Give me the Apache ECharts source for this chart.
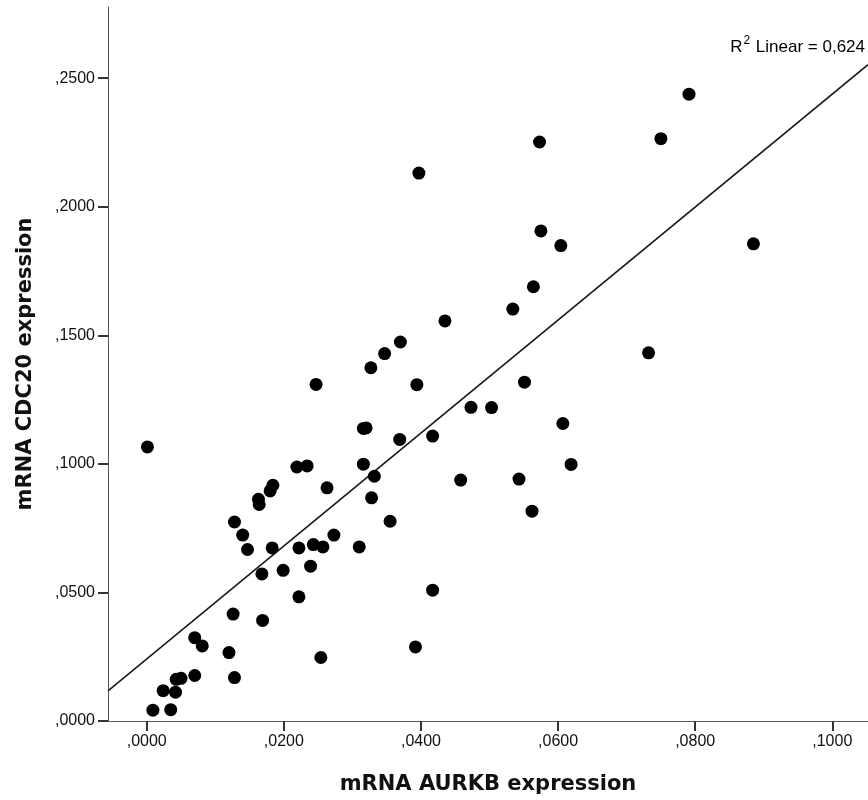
<!DOCTYPE html>
<html>
<head>
<meta charset="utf-8">
<script src="https://cdn.jsdelivr.net/npm/echarts@6/dist/echarts.min.js"></script>
<style>
  html, body { margin: 0; padding: 0; background: #fff; }
  #chart { width: 868px; height: 800px; }
</style>
</head>
<body>
<div id="chart"></div>
<script>
// ---- data ----
const xTicks = [0, 0.02, 0.04, 0.06, 0.08, 0.10];
const yTicks = [0, 0.05, 0.10, 0.15, 0.20, 0.25];
const xRange = [-0.00565, 0.10521];
const yRange = [0, 0.2777];

const aurkb = [
  0.0001, 0.0316, 0.0320, 0.0369, 0.0417, 0.0219, 0.0234, 0.0316, 0.0332, 0.0263,
  0.0328, 0.0184, 0.0180, 0.0163, 0.0164, 0.0355, 0.0128, 0.0140, 0.0273, 0.0147,
  0.0183, 0.0222, 0.0243, 0.0257, 0.0310, 0.0168, 0.0199, 0.0239, 0.0222, 0.0417,
  0.0126, 0.0169, 0.0070, 0.0081, 0.0120, 0.0392, 0.0254, 0.0070, 0.0128, 0.0043,
  0.0050, 0.0024, 0.0042, 0.0009, 0.0035, 0.0247, 0.0327, 0.0347, 0.0370, 0.0435,
  0.0394, 0.0473, 0.0503, 0.0397, 0.0573, 0.0575, 0.0604, 0.0564, 0.0534, 0.0551,
  0.0607, 0.0619, 0.0458, 0.0543, 0.0562, 0.0732, 0.0791, 0.0750, 0.0885
];
const cdc20 = [
  0.1066, 0.1138, 0.1140, 0.1095, 0.1108, 0.0988, 0.0992, 0.0999, 0.0952, 0.0907,
  0.0868, 0.0917, 0.0895, 0.0862, 0.0842, 0.0777, 0.0774, 0.0723, 0.0723, 0.0667,
  0.0673, 0.0673, 0.0686, 0.0677, 0.0677, 0.0572, 0.0586, 0.0602, 0.0483, 0.0509,
  0.0416, 0.0391, 0.0324, 0.0292, 0.0266, 0.0288, 0.0247, 0.0177, 0.0169, 0.0162,
  0.0166, 0.0118, 0.0112, 0.0042, 0.0044, 0.1309, 0.1374, 0.1429, 0.1474, 0.1556,
  0.1308, 0.1220, 0.1219, 0.2131, 0.2252, 0.1906, 0.1849, 0.1689, 0.1602, 0.1318,
  0.1157, 0.0998, 0.0937, 0.0941, 0.0816, 0.1432, 0.2438, 0.2265, 0.1856
];
const fitIntercept = 0.0241;
const fitSlope = 2.197;
const r2Value = '0,624';

// ---- build ----
const points = aurkb.map((x, i) => [x, cdc20[i]]);
const fitLine = xRange.map(x => [x, fitIntercept + fitSlope * x]);
const fmt = v => v.toFixed(4).replace(/^0\./, ',');

const chart = echarts.init(document.getElementById('chart'), null, { renderer: 'canvas' });
chart.setOption({
  animation: false,
  backgroundColor: '#ffffff',
  grid: { left: 108, right: 0, top: 7, bottom: 79, containLabel: false, outerBoundsMode: 'none' },
  xAxis: {
    type: 'value',
    min: xRange[0], max: xRange[1],
    name: 'mRNA AURKB expression',
    nameLocation: 'middle',
    nameGap: 53,
    nameTextStyle: { fontFamily: 'DejaVu Sans', fontWeight: 'bold', fontSize: 21, color: '#111' },
    axisLine: { show: true, onZero: false, lineStyle: { color: '#555', width: 1 } },
    axisTick: { show: true, length: 10, customValues: xTicks, lineStyle: { color: '#333', width: 2 } },
    axisLabel: { customValues: xTicks, formatter: fmt, margin: 13, fontFamily: 'Liberation Sans', fontSize: 16, color: '#111' },
    splitLine: { show: false }
  },
  yAxis: {
    type: 'value',
    min: yRange[0], max: yRange[1],
    name: 'mRNA CDC20 expression',
    nameLocation: 'middle',
    nameGap: 72,
    nameTextStyle: { fontFamily: 'DejaVu Sans', fontWeight: 'bold', fontSize: 21, color: '#111' },
    axisLine: { show: true, onZero: false, lineStyle: { color: '#555', width: 1 } },
    axisTick: { show: true, length: 10, customValues: yTicks, lineStyle: { color: '#333', width: 2 } },
    axisLabel: { customValues: yTicks, formatter: fmt, margin: 13, fontFamily: 'Liberation Sans', fontSize: 16, color: '#111' },
    splitLine: { show: false }
  },
  series: [
    {
      type: 'line',
      data: fitLine,
      symbol: 'none',
      silent: true,
      z: 2,
      lineStyle: { color: '#1a1a1a', width: 1.6 }
    },
    {
      type: 'scatter',
      data: points,
      symbol: 'circle',
      symbolSize: 13,
      z: 3,
      itemStyle: { color: '#000', opacity: 1 }
    }
  ],
  graphic: [
    {
      type: 'text',
      right: 3,
      top: 35,
      style: {
        text: '{a|R}{s|2}{a| Linear = ' + r2Value + '}',
        rich: {
          a: { fontFamily: 'Liberation Sans', fontSize: 17, color: '#111', lineHeight: 21, verticalAlign: 'bottom' },
          s: { fontFamily: 'Liberation Sans', fontSize: 12, color: '#111', lineHeight: 21, verticalAlign: 'top', padding: [0, 1, 8, 1] }
        }
      }
    }
  ]
});
</script>
</body>
</html>
